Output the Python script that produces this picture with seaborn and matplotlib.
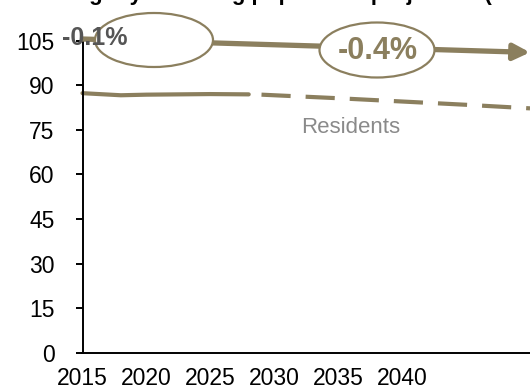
import matplotlib
matplotlib.use("Agg")
import matplotlib.pyplot as plt
import seaborn as sns
import pandas as pd
from matplotlib.patches import Ellipse

# ---- data ----
years_actual = [2015, 2018, 2020, 2025, 2028]
residents_actual = [87.3, 86.6, 86.8, 87.0, 86.9]
years_proj = [2029, 2035, 2040, 2045, 2050]
residents_proj = [86.8, 85.6, 84.5, 83.4, 82.2]
trend_years = [2015, 2050]
trend_values = [105.5, 101.0]
xtick_years = [2015, 2020, 2025, 2030, 2035, 2040]
ytick_values = [0, 15, 30, 45, 60, 75, 90, 105]
label_hist = "-0.1%"
label_proj = "-0.4%"
series_label = "Residents"
title = "Slightly declining population projection (mln)"

OLIVE = "#8b7f5e"

sns.set_theme(style="white")
plt.rcParams["font.family"] = ["Liberation Sans", "DejaVu Sans"]

fig = plt.figure(figsize=(5.30, 3.89), dpi=100)
ax = fig.add_axes([82.5 / 530, 36 / 389, 447.5 / 530, 312.5 / 389])

df_a = pd.DataFrame({"year": years_actual, "value": residents_actual})
df_p = pd.DataFrame({"year": years_proj, "value": residents_proj})
sns.lineplot(data=df_a, x="year", y="value", ax=ax, color=OLIVE, lw=3.0,
             clip_on=False)
sns.lineplot(data=df_p, x="year", y="value", ax=ax, color=OLIVE, lw=3.0,
             clip_on=False)
ax.lines[-1].set_dashes([7, 3.6])

ax.set_xlim(2015, 2050)
ax.set_ylim(0, 105)
ax.set_xticks(xtick_years)
ax.set_yticks(ytick_values)
ax.set_xlabel("")
ax.set_ylabel("")
for s in ["top", "right"]:
    ax.spines[s].set_visible(False)
for s in ["left", "bottom"]:
    ax.spines[s].set_color("black")
    ax.spines[s].set_linewidth(1.4)
ax.tick_params(axis="y", length=5, width=1.4, color="black", labelsize=16.5,
               labelcolor="black", pad=15, left=True)
ax.tick_params(axis="x", length=0, labelsize=16.5, labelcolor="black", pad=10)

# trend arrow
ax.annotate("", xy=(trend_years[1], trend_values[1]),
            xytext=(trend_years[0], trend_values[0]),
            xycoords="data", textcoords="data", annotation_clip=False,
            arrowprops=dict(arrowstyle="-|>,head_length=0.8,head_width=0.4",
                            color=OLIVE, lw=3.8, shrinkA=0, shrinkB=0),
            zorder=4)

# ellipses (in pixel coords)
def px_ellipse(cx, cy, w, h):
    e = Ellipse((cx / 530, 1 - cy / 389), w / 530, h / 389,
                transform=fig.transFigure, facecolor="white",
                edgecolor=OLIVE, lw=1.6, zorder=5)
    fig.add_artist(e)

px_ellipse(154, 40, 118, 54)
px_ellipse(377, 50, 115, 55)

fig.text(95 / 530, 1 - 38 / 389, label_hist, ha="center", va="center",
         fontsize=18, fontweight="bold", color="#555555", zorder=6)
fig.text(378 / 530, 1 - 51 / 389, label_proj, ha="center", va="center",
         fontsize=22, fontweight="bold", color=OLIVE, zorder=6)
fig.text(351 / 530, 1 - 133 / 389, series_label, ha="center", va="baseline",
         fontsize=16, color="#8a8a8a")

fig.text(300 / 530, 1.0, title, ha="center", va="baseline",
         fontsize=16, fontweight="bold", color="black")

fig.savefig("out.png", dpi=100)
